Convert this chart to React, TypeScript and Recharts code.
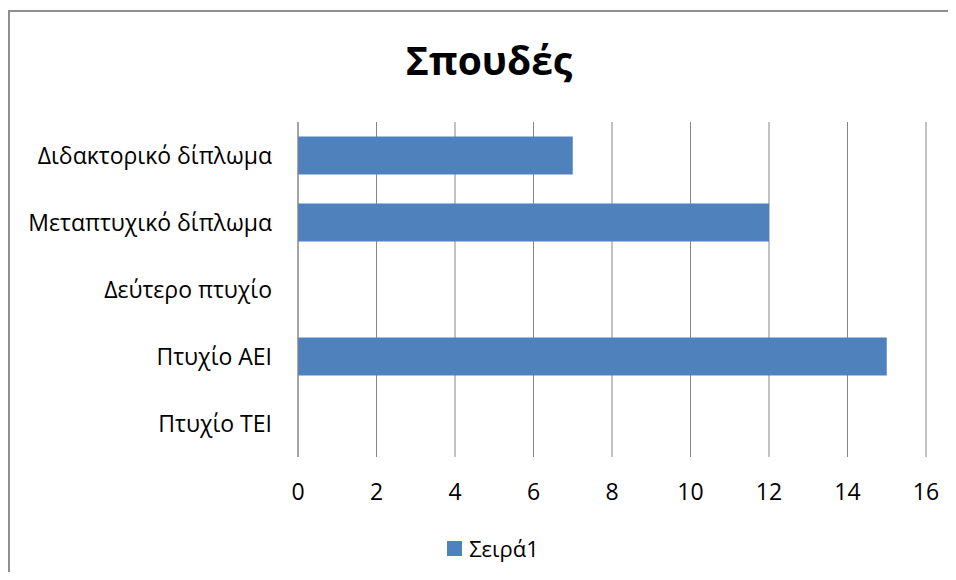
import React from "react";
import { BarChart, Bar, XAxis, YAxis, CartesianGrid, Legend } from "recharts";

const categories = [
  "Διδακτορικό δίπλωμα",
  "Μεταπτυχικό δίπλωμα",
  "Δεύτερο πτυχίο",
  "Πτυχίο ΑΕΙ",
  "Πτυχίο ΤΕΙ",
];
const seriesValues = [7, 12, 0, 15, 0];
const xTicks = [0, 2, 4, 6, 8, 10, 12, 14, 16];
const seriesName = "Σειρά1";
const title = "Σπουδές";

const data = categories.map((c, i) => ({ name: c, value: seriesValues[i] }));

const FONT = "'Open Sans', 'Noto Sans', sans-serif";
const BLUE = "#4F81BD";
const GRID = "#868686";
const FRAME = "#8f8f8f";

const LegendContent = () => (
  <div
    style={{
      height: 48,
      width: 940,
      display: "flex",
      alignItems: "center",
      justifyContent: "center",
      paddingLeft: 30,
      boxSizing: "border-box",
      fontFamily: FONT,
      fontSize: 22,
      color: "#000",
    }}
  >
    <span style={{ display: "inline-block", width: 15, height: 15, background: BLUE, marginRight: 7 }} />
    <span>{seriesName}</span>
  </div>
);

export default function App() {
  return (
    <div style={{ position: "relative", width: 940, height: 564, background: "#fff" }}>
      <style>{`html, body { overflow: hidden; }`}</style>
      <div style={{ position: "absolute", left: 0, top: 2, width: 948, height: 2, background: FRAME }} />
      <div style={{ position: "absolute", left: 0, top: 2, width: 2, height: 562, background: FRAME }} />
      <div
        style={{
          position: "absolute",
          left: 0,
          top: 32,
          width: 940,
          paddingLeft: 22,
          boxSizing: "border-box",
          textAlign: "center",
          fontFamily: FONT,
          fontWeight: 700,
          fontSize: 39,
          lineHeight: "39px",
          color: "#000",
        }}
      >
        {title}
      </div>
      <div style={{ position: "absolute", left: 0, top: 0 }}>
        <BarChart
          width={940}
          height={564}
          data={data}
          layout="vertical"
          margin={{ top: 114, right: 22, left: 0, bottom: 0 }}
          barCategoryGap="21.5%"
        >
          <CartesianGrid horizontal={false} vertical={true} stroke={GRID} strokeWidth={1} />
          <XAxis
            type="number"
            domain={[0, 16]}
            ticks={xTicks}
            interval={0}
            axisLine={false}
            tickLine={false}
            tickSize={0}
            tickMargin={27}
            height={67}
            tick={{ fill: "#000", fontSize: 23, fontFamily: FONT }}
          />
          <YAxis
            type="category"
            dataKey="name"
            width={290}
            axisLine={{ stroke: GRID, strokeWidth: 1 }}
            tickLine={false}
            tickSize={0}
            tickMargin={26}
            interval={0}
            tick={{ fill: "#000", fontSize: 23, fontFamily: FONT }}
          />
          <Legend
            verticalAlign="bottom"
            align="left"
            width={940}
            height={48}
            wrapperStyle={{ left: 0 }}
            content={<LegendContent />}
          />
          <Bar dataKey="value" name={seriesName} fill={BLUE} isAnimationActive={false} />
        </BarChart>
      </div>
    </div>
  );
}
